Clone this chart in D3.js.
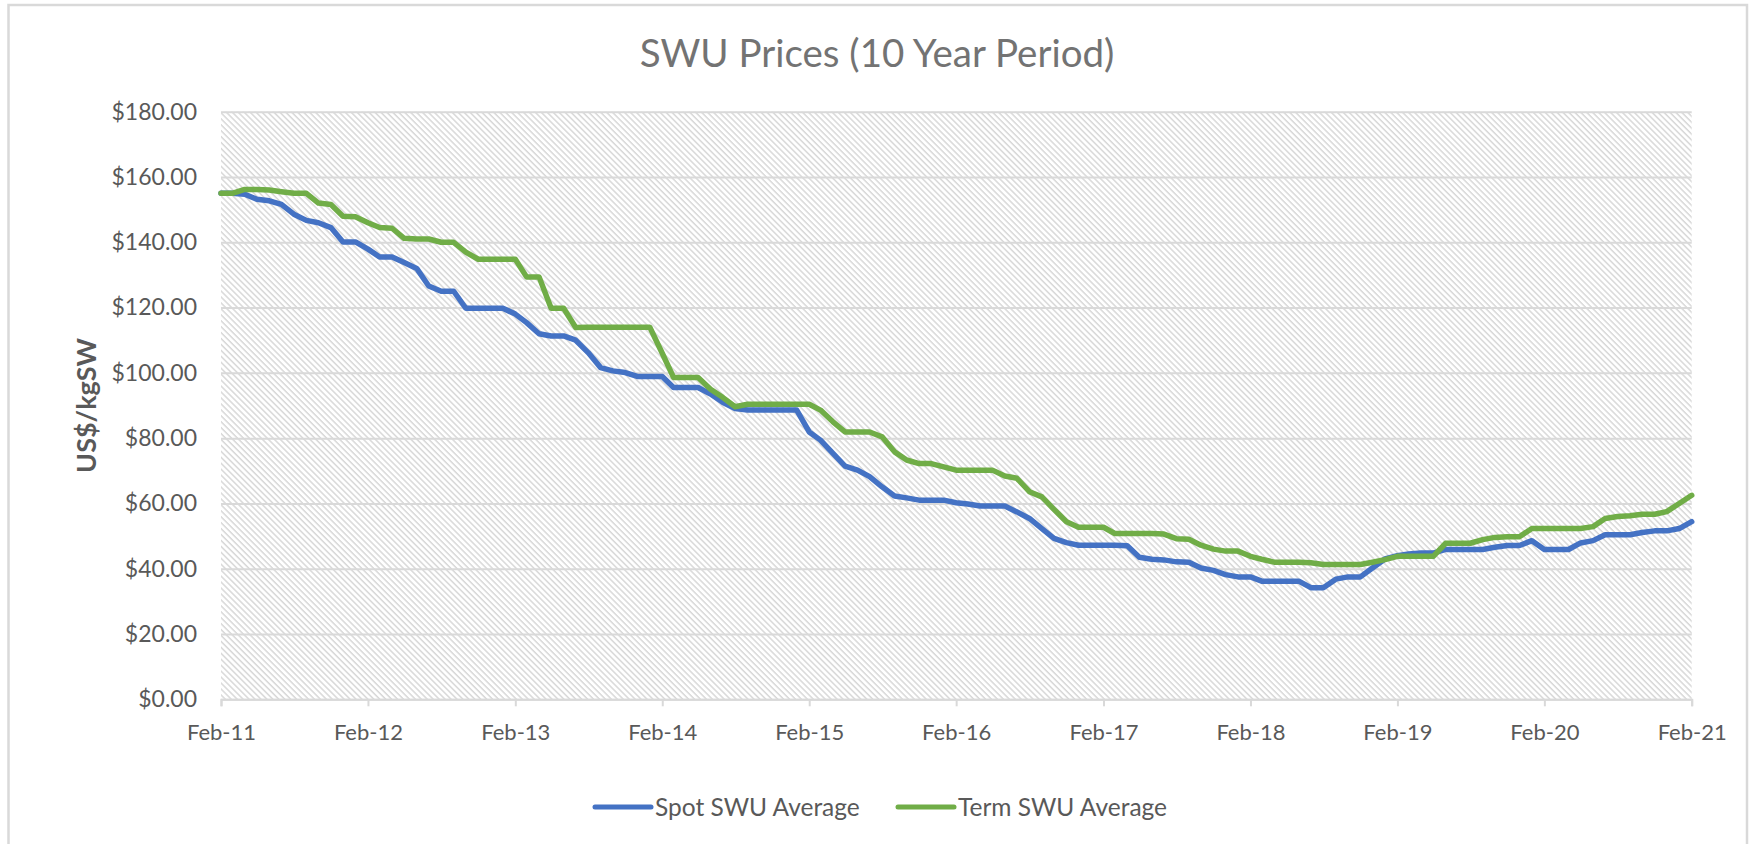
<!DOCTYPE html>
<html>
<head>
<meta charset="utf-8">
<script src="https://cdnjs.cloudflare.com/ajax/libs/d3/7.8.5/d3.min.js"></script>
<style>
  html, body { margin: 0; padding: 0; background: #fff; }
  svg { display: block; font-family: Lato, 'Noto Sans', sans-serif; }
  .grid line { stroke: #d9d9d9; stroke-width: 2; }
  .grid path { display: none; }
  .axis-x path, .axis-x line { stroke: #d9d9d9; stroke-width: 2; }
  .axis-x text { fill: #595959; font-size: 22px; }
  .axis-y text { fill: #595959; font-size: 23px; }
  .axis-y path, .axis-y line { display: none; }
  .path-line { fill: none; stroke-width: 5.5; stroke-linejoin: round; stroke-linecap: round; }
  .legend-text { fill: #595959; font-size: 24.5px; }
</style>
</head>
<body>
<div id="chart"></div>
<script>
// Monthly observations, Feb-2011 through Feb-2021 (121 months)
const startMonth = new Date(2011, 1, 1)
const endMonth = new Date(2021, 1, 1)
const months = d3.timeMonth.range(startMonth, d3.timeMonth.offset(endMonth, 1))

const seriesNames = ['Spot SWU Average', 'Term SWU Average']
const seriesColors = ['#4472c4', '#70ad47']

// Spot SWU average (US$/kgSW)
const spotValues = [
  155, 155, 154.7, 153.2, 152.7, 151.6, 148.6, 146.7, 146, 144.5, 140.1, 140.1,
  137.9, 135.5, 135.5, 133.8, 132, 126.6, 125, 125, 119.8, 119.8, 119.8, 119.8,
  118, 115.4, 112, 111.3, 111.3, 110, 106.2, 101.6, 100.6, 100.1, 98.9, 98.9,
  98.9, 95.5, 95.5, 95.5, 93.5, 91, 89.1, 88.6, 88.6, 88.6, 88.6, 88.6,
  81.9, 79.4, 75.3, 71.4, 70.2, 68.2, 65.1, 62.3, 61.7, 61, 61, 61,
  60.2, 59.8, 59.2, 59.2, 59.2, 57.4, 55.4, 52.3, 49.3, 48, 47.2, 47.2,
  47.2, 47.2, 47, 43.5, 42.9, 42.7, 42.1, 42, 40.2, 39.5, 38.2, 37.5,
  37.5, 36.2, 36.2, 36.2, 36.2, 34.2, 34.2, 36.8, 37.5, 37.5, 40.2, 43,
  44, 44.5, 44.8, 44.8, 45.9, 45.9, 45.9, 45.9, 46.6, 47.1, 47.1, 48.6,
  45.9, 45.9, 45.9, 47.9, 48.6, 50.4, 50.4, 50.4, 51.1, 51.6, 51.6, 52.3,
  54.4
]

// Term SWU average (US$/kgSW)
const termValues = [
  155, 155, 156.2, 156.2, 156, 155.5, 155, 155, 152, 151.6, 148, 147.8,
  146, 144.5, 144.3, 141.2, 141, 141, 140, 140, 137, 134.8, 134.8, 134.8,
  134.8, 129.4, 129.4, 119.8, 119.8, 113.9, 114, 114, 114, 114, 114, 114,
  106, 98.6, 98.6, 98.6, 95, 92.5, 89.6, 90.4, 90.4, 90.4, 90.4, 90.4,
  90.4, 88.6, 85, 81.9, 81.9, 81.9, 80.4, 75.8, 73.3, 72.2, 72.2, 71.2,
  70.2, 70.2, 70.2, 70.2, 68.4, 67.7, 63.6, 62, 58.2, 54.4, 52.7, 52.7,
  52.7, 50.8, 50.8, 50.8, 50.8, 50.6, 49.2, 49, 47.2, 46, 45.4, 45.4,
  43.8, 42.9, 42, 42, 42, 41.8, 41.3, 41.3, 41.3, 41.3, 42, 42.8,
  43.8, 43.8, 43.8, 43.8, 47.8, 47.8, 47.8, 48.9, 49.6, 49.8, 49.8, 52.3,
  52.3, 52.3, 52.3, 52.3, 52.9, 55.4, 56, 56.2, 56.7, 56.7, 57.5, 60,
  62.5
]

const yTicks = [0, 20, 40, 60, 80, 100, 120, 140, 160, 180]
const xTicks = d3.timeYear.range(new Date(2011, 0, 1), new Date(2022, 0, 1)).map(d => new Date(d.getFullYear(), 1, 1))

const chartTitle = 'SWU Prices (10 Year Period)'
const yTitle = 'US$/kgSW'

const drawChart = () => {
  const width = 1750
  const height = 844
  const margin = { top: 111.7, right: 58.3, bottom: 144.7, left: 221 }
  const innerWidth = width - margin.left - margin.right
  const innerHeight = height - margin.top - margin.bottom

  const svg = d3.select('#chart')
    .append('svg')
    .attr('width', width)
    .attr('height', height)

  // Outer chart border
  svg.append('rect')
    .attr('x', 8.5)
    .attr('y', 5)
    .attr('width', 1738.5)
    .attr('height', 860)
    .attr('fill', '#fff')
    .attr('stroke', '#d9d9d9')
    .attr('stroke-width', 2.5)

  // Diagonal hatch for the plot area
  const defs = svg.append('defs')
  const hatch = defs.append('pattern')
    .attr('id', 'hatch')
    .attr('patternUnits', 'userSpaceOnUse')
    .attr('width', 4.2)
    .attr('height', 4.2)
    .attr('patternTransform', 'rotate(45)')
  hatch.append('rect')
    .attr('width', 4.2)
    .attr('height', 4.2)
    .attr('fill', '#fff')
  hatch.append('rect')
    .attr('width', 4.2)
    .attr('height', 1.5)
    .attr('fill', '#d8d8d8')

  const g = svg.append('g')
    .attr('transform', `translate(${margin.left}, ${margin.top})`)

  // Scales
  const xScale = d3.scaleTime()
    .domain([startMonth, endMonth])
    .range([0, innerWidth])
  const yScale = d3.scaleLinear()
    .domain([0, 180])
    .range([innerHeight, 0])

  g.append('rect')
    .attr('width', innerWidth)
    .attr('height', innerHeight)
    .attr('fill', 'url(#hatch)')

  // Y gridlines
  g.append('g')
    .attr('class', 'grid')
    .call(
      d3.axisLeft(yScale)
        .tickValues(yTicks)
        .tickSize(-innerWidth)
        .tickFormat('')
    )

  // Left axis - price labels
  g.append('g')
    .attr('class', 'axis-y')
    .call(
      d3.axisLeft(yScale)
        .tickValues(yTicks)
        .tickSize(0)
        .tickPadding(24)
        .tickFormat(d => '$' + d3.format('.2f')(d))
    )

  // Bottom axis - dates
  g.append('g')
    .attr('class', 'axis-x')
    .attr('transform', `translate(0, ${innerHeight})`)
    .call(
      d3.axisBottom(xScale)
        .tickValues(xTicks)
        .tickSize(7)
        .tickSizeOuter(7)
        .tickPadding(18)
        .tickFormat(d3.timeFormat('%b-%y'))
    )

  svg.selectAll('.axis-x, .axis-y').attr('font-family', null).attr('font-size', null)

  // Lines
  const series = [spotValues, termValues]
  const line = d3.line()
    .x((d, i) => xScale(months[i]))
    .y(d => yScale(d))

  series.forEach((values, k) => {
    g.append('path')
      .datum(values)
      .attr('class', 'path-line')
      .attr('stroke', seriesColors[k])
      .attr('d', line)
  })

  // Title
  svg.append('text')
    .attr('x', 877)
    .attr('y', 67)
    .attr('text-anchor', 'middle')
    .attr('fill', '#737373')
    .attr('font-size', 38.5)
    .text(chartTitle)

  // Y axis title
  svg.append('text')
    .attr('transform', `translate(96, ${margin.top + innerHeight / 2}) rotate(-90)`)
    .attr('text-anchor', 'middle')
    .attr('fill', '#595959')
    .attr('font-size', 27)
    .attr('font-weight', 'bold')
    .text(yTitle)

  // Legend
  const legendX = [595, 898]
  const legend = svg.append('g')
    .attr('transform', 'translate(0, 807)')
  seriesNames.forEach((name, k) => {
    legend.append('line')
      .attr('x1', legendX[k])
      .attr('x2', legendX[k] + 56)
      .attr('stroke', seriesColors[k])
      .attr('stroke-width', 5)
      .attr('stroke-linecap', 'round')
    legend.append('text')
      .attr('class', 'legend-text')
      .attr('x', legendX[k] + 60)
      .attr('dy', '0.35em')
      .text(name)
  })
}

drawChart()
</script>
</body>
</html>
